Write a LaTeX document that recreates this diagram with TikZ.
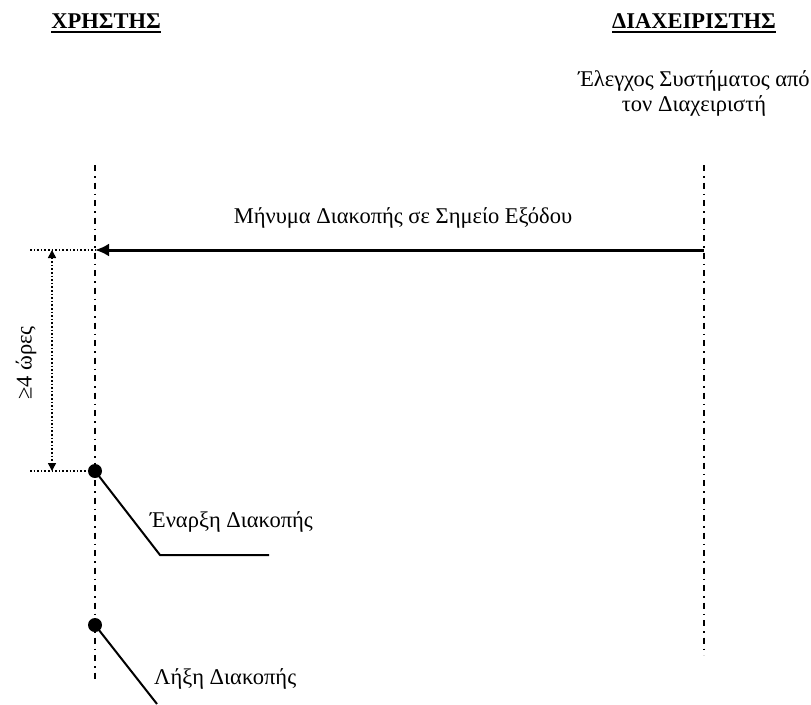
\documentclass[tikz,border=0pt]{standalone}
\usepackage{fontspec}
\setmainfont{Liberation Serif}
\usetikzlibrary{arrows.meta}
\newcommand{\xU}{95}
\newcommand{\xA}{704}
\newcommand{\yMsg}{250}
\newcommand{\yStart}{471}
\newcommand{\yStop}{625}
\tikzset{
  lifeline/.style = {line width=1.4pt, dash pattern=on 6pt off 5pt on 1.5pt off 5pt},
  msgarrow/.style = {-{Latex[length=14pt,width=13pt]}, line width=3pt},
  dimline/.style  = {{Triangle[length=8pt,width=8pt]}-{Triangle[length=8pt,width=8pt]}, line width=1.6pt, dotted},
  dimguide/.style = {line width=1.6pt, dotted},
  callout/.style  = {line width=2pt},
  eventdot/.style = {circle, fill=black, inner sep=0pt, minimum size=14pt},
  hdr/.style      = {font=\fontsize{22.5}{25}\selectfont\bfseries, inner sep=0pt, anchor=base},
  lbl/.style      = {font=\fontsize{22.5}{25}\selectfont, inner sep=0pt}
}
\begin{document}
\begin{tikzpicture}[x=1pt, y=-1pt]
  \useasboundingbox (0,0) rectangle (811,704);
  % Headers (underlined)
  \node[hdr] (user) at (106,28) {ΧΡΗΣΤΗΣ};
  \node[hdr] (admin) at (694,28) {ΔΙΑΧΕΙΡΙΣΤΗΣ};
  \draw[line width=1.8pt] ([yshift=-4pt]user.base west) -- ([yshift=-4pt]user.base east);
  \draw[line width=1.8pt] ([yshift=-4pt]admin.base west) -- ([yshift=-4pt]admin.base east);
  \node[lbl, align=center, anchor=north] (check) at (694,70) {Έλεγχος Συστήματος από\\τον Διαχειριστή};
  % Lifelines
  \coordinate (u top) at (\xU,165);
  \coordinate (u bot) at (\xU,680);
  \coordinate (a top) at (\xA,165);
  \coordinate (a bot) at (\xA,655);
  \draw[lifeline] (u top) -- (u bot);
  \draw[lifeline] (a top) -- (a bot);
  % Message from admin to user
  \coordinate (msg from) at (\xA,\yMsg);
  \coordinate (msg to) at (\xU,\yMsg);
  \draw[msgarrow] (msg from) -- (msg to);
  \node[lbl, anchor=base] (msgtxt) at (403,223) {Μήνυμα Διακοπής σε Σημείο Εξόδου};
  % Start / stop of the interruption
  \node[eventdot] (start) at (\xU,\yStart) {};
  \node[eventdot] (stop) at (\xU,\yStop) {};
  \coordinate (start knee) at (160,555);
  \coordinate (start end) at (269,555);
  \coordinate (stop end) at (157,704);
  \draw[callout] (start.center) -- (start knee) -- (start end);
  \draw[callout] (stop.center) -- (stop end);
  \node[lbl, anchor=base west] (starttxt) at (150,527) {Έναρξη Διακοπής};
  \node[lbl, anchor=base west] (stoptxt) at (154,684) {Λήξη Διακοπής};
  % Duration between message and start
  \coordinate (guide top) at (30,\yMsg);
  \coordinate (guide bot) at (30,\yStart);
  \coordinate (dim top) at (52,\yMsg);
  \coordinate (dim bot) at (52,\yStart);
  \draw[dimguide] (guide top) -- (msg to);
  \draw[dimguide] (guide bot) -- (start);
  \draw[dimline] (dim top) -- (dim bot);
  \node[lbl, rotate=90] (dur) at (26,363) {≥4 ώρες};
\end{tikzpicture}
\end{document}
